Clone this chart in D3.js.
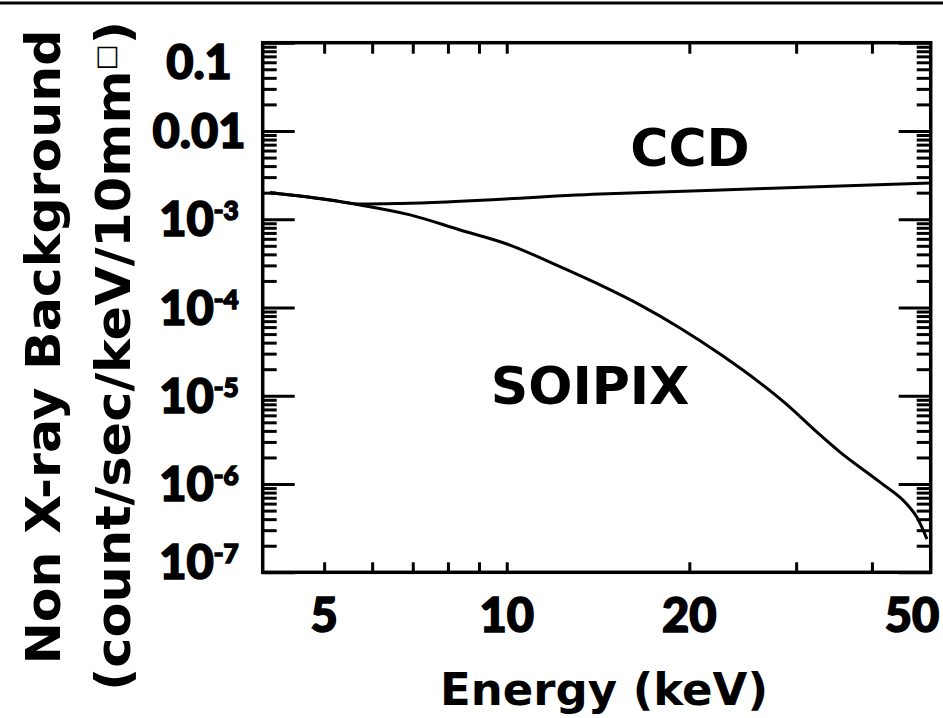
<!DOCTYPE html>
<html>
<head>
<meta charset="utf-8">
<script src="https://cdn.jsdelivr.net/npm/d3@7"></script>
<style>
    body { margin: 0; background: #fff; }
    .digits { font-family: Lato, "DejaVu Sans", sans-serif; font-weight: 900; stroke: #000; stroke-width: 1.6px; }
    .words { font-family: "DejaVu Sans", sans-serif; font-weight: bold; }
</style>
</head>
<body>
<svg id="chart" width="943" height="718"></svg>
<script>
// Data (energy in keV, background in count/sec/keV/10mm²)
const energyCCD = [4.07, 4.56, 5.11, 5.73, 6.67, 14.25, 26.65, 50];
const bgCCD = [2.0e-3, 1.83e-3, 1.65e-3, 1.49e-3, 1.51e-3, 1.93e-3, 2.23e-3, 2.57e-3];

const energySOIPIX = [4.07, 4.56, 5.11, 5.73, 6.93, 8.38, 10.12, 12.24, 14.25, 16.58, 19.30,
    22.47, 26.15, 29.31, 32.23, 35.44, 41.24, 45.69, 47.46, 49.30];
const bgSOIPIX = [2.0e-3, 1.83e-3, 1.65e-3, 1.45e-3, 1.12e-3, 7.55e-4, 5.10e-4, 2.90e-4, 1.80e-4,
    1.07e-4, 5.86e-5, 2.97e-5, 1.40e-5, 7.4e-6, 4.05e-6, 2.30e-6, 1.05e-6, 5.9e-7, 4.2e-7, 2.38e-7];

// Axes
const xTicks = [5, 6, 7, 8, 9, 10, 20, 30, 40];
const xLabels = [5, 10, 20, 50];
const yMajor = [1e-1, 1e-2, 1e-3, 1e-4, 1e-5, 1e-6, 1e-7];
const yLabelBase = ["0.1", "0.01", "10", "10", "10", "10", "10"];
const yLabelExp = ["", "", "-3", "-4", "-5", "-6", "-7"];

const svg = d3.select("#chart");
const x = d3.scaleLog().domain([3.96, 50]).range([262.7, 930.7]);
const y = d3.scaleLog().domain([1e-7, 0.1]).range([572.3, 42.7]);

const [x0, x1] = x.range();
const [yb, yt] = y.range();

// minor ticks 2..9 in each decade
const yMinor = [];
for (let d = -7; d < -1; d++) {
    for (let k = 2; k <= 9; k++) yMinor.push(k * Math.pow(10, d));
}

// top rule
svg.append("line")
    .attr("x1", 0).attr("x2", 943).attr("y1", 3).attr("y2", 3)
    .attr("stroke", "#000").attr("stroke-width", 3);

function tickStyle(sel) {
    sel.select(".domain").remove();
    sel.selectAll(".tick line").attr("stroke", "#000").attr("stroke-width", 3);
}

// x ticks, top and bottom (inside)
svg.append("g").attr("transform", `translate(0,${yt})`)
    .call(d3.axisBottom(x).tickValues(xTicks).tickSize(11).tickFormat(""))
    .call(tickStyle);
svg.append("g").attr("transform", `translate(0,${yb})`)
    .call(d3.axisTop(x).tickValues(xTicks).tickSize(10).tickFormat(""))
    .call(tickStyle);

// y ticks, left and right (inside)
svg.append("g").attr("transform", `translate(${x0},0)`)
    .call(d3.axisRight(y).tickValues(yMinor).tickSize(14).tickFormat(""))
    .call(tickStyle);
svg.append("g").attr("transform", `translate(${x0},0)`)
    .call(d3.axisRight(y).tickValues(yMajor).tickSize(32).tickFormat(""))
    .call(tickStyle);
svg.append("g").attr("transform", `translate(${x1},0)`)
    .call(d3.axisLeft(y).tickValues(yMinor).tickSize(14).tickFormat(""))
    .call(tickStyle);
svg.append("g").attr("transform", `translate(${x1},0)`)
    .call(d3.axisLeft(y).tickValues(yMajor).tickSize(32).tickFormat(""))
    .call(tickStyle);

// frame
svg.append("rect")
    .attr("x", x0).attr("y", yt)
    .attr("width", x1 - x0).attr("height", yb - yt)
    .attr("fill", "none").attr("stroke", "#000").attr("stroke-width", 3.5);

// curves
const line = d3.line().curve(d3.curveMonotoneX);
const series = [
    { e: energyCCD, v: bgCCD },
    { e: energySOIPIX, v: bgSOIPIX }
];
series.forEach(s => {
    svg.append("path")
        .attr("d", line(s.e.map((e, i) => [x(e), y(s.v[i])])))
        .attr("fill", "none")
        .attr("stroke", "#000")
        .attr("stroke-width", 3)
        .attr("stroke-linejoin", "round");
});

// y tick labels
yMajor.forEach((v, i) => {
    const cy = Math.max(62, Math.min(562, y(v)));
    const t = svg.append("text")
        .attr("class", "digits")
        .attr("x", 199).attr("y", cy + 17)
        .attr("text-anchor", "middle")
        .attr("font-size", 47);
    t.append("tspan").text(yLabelBase[i]);
    if (yLabelExp[i]) {
        t.append("tspan").attr("font-size", 26).attr("dy", -16).text(yLabelExp[i]);
    }
});

// x tick labels
svg.append("g").selectAll("text")
    .data(xLabels)
    .enter().append("text")
    .attr("class", "digits")
    .attr("x", d => Math.min(912, x(d)))
    .attr("y", 632)
    .attr("text-anchor", "middle")
    .attr("font-size", 47)
    .text(d => d);

// axis titles
svg.append("text")
    .attr("class", "words")
    .attr("x", 604).attr("y", 705)
    .attr("text-anchor", "middle")
    .attr("font-size", 45)
    .text("Energy (keV)");

svg.append("text")
    .attr("class", "words")
    .attr("transform", "translate(60,347) rotate(-90)")
    .attr("text-anchor", "middle")
    .attr("font-size", 48)
    .attr("textLength", 635)
    .attr("lengthAdjust", "spacingAndGlyphs")
    .text("Non X-ray Background");

const t2 = svg.append("text")
    .attr("class", "words")
    .attr("transform", "translate(130,356) rotate(-90)")
    .attr("text-anchor", "middle")
    .attr("font-size", 48)
    .attr("textLength", 670)
    .attr("lengthAdjust", "spacingAndGlyphs");
t2.append("tspan").text("(count/sec/keV/10mm");
t2.append("tspan").attr("font-size", 26).attr("dy", -16).attr("font-weight", "normal").text("□");
t2.append("tspan").attr("dy", 16).text(")");

// series labels
svg.append("text")
    .attr("class", "words")
    .attr("x", 690).attr("y", 166)
    .attr("text-anchor", "middle")
    .attr("font-size", 52)
    .text("CCD");

svg.append("text")
    .attr("class", "words")
    .attr("x", 590).attr("y", 404)
    .attr("text-anchor", "middle")
    .attr("font-size", 52)
    .text("SOIPIX");
</script>
</body>
</html>
